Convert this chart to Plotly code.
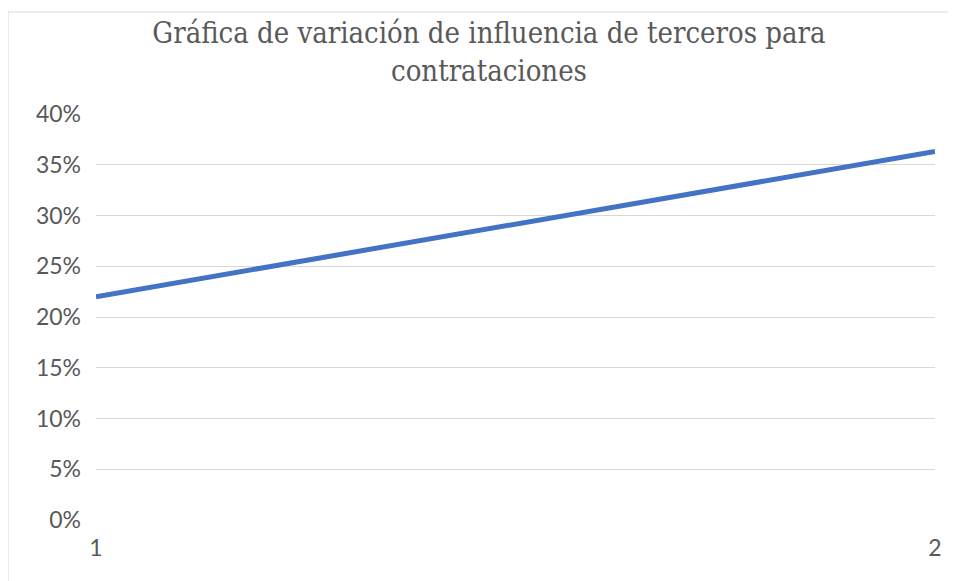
import plotly.graph_objects as go

x_values = [1, 2]
influencia = [0.22, 0.363]
y_tick_vals = [0, 0.05, 0.10, 0.15, 0.20, 0.25, 0.30, 0.35, 0.40]
y_tick_text = ["0%", "5%", "10%", "15%", "20%", "25%", "30%", "35%", "40%"]
x_tick_text = ["1", "2"]
title_text = "Gráfica de variación de influencia de terceros para<br>contrataciones"

# page body has an 8px default margin, so figure coords = window coords - 8
OFF = 8
W, H = 956, 581
L = 96 - OFF
T = 114 - OFF
R = W - (935 - OFF)
B = H - (520 - OFF)
pw = W - L - R
ph = H - T - B

fig = go.Figure()
fig.add_trace(go.Scatter(
    x=x_values, y=influencia, mode="lines",
    line=dict(color="#4472C4", width=5),
    showlegend=False, hoverinfo="skip",
))

fig.update_layout(
    width=W, height=H,
    margin=dict(l=L, r=R, t=T, b=B),
    paper_bgcolor="white", plot_bgcolor="white",
    title=dict(
        text=title_text, x=(489 - OFF) / W, xanchor="center",
        y=1 - (43 - OFF) / H, yanchor="middle",
        font=dict(family="DejaVu Serif Condensed, DejaVu Serif", size=29, color="#595959"),
    ),
    xaxis=dict(
        range=[1, 2], tickvals=x_values, ticktext=x_tick_text,
        showgrid=False, zeroline=False, showline=False, ticks="",
        tickfont=dict(family="Lato", size=23, color="#595959"),
        ticklabelstandoff=12,
    ),
    yaxis=dict(
        range=[0, 0.40], tickvals=y_tick_vals, ticktext=y_tick_text,
        showgrid=True, gridcolor="#D9D9D9", gridwidth=1,
        zeroline=False, showline=False, ticks="",
        tickfont=dict(family="Lato", size=23, color="#595959"),
        ticklabelstandoff=14,
    ),
    shapes=[dict(
        type="rect", xref="paper", yref="paper",
        x0=(8 - OFF - L) / pw, x1=1 + (W + 20 - L - pw) / pw,
        y0=-(B + 20) / ph, y1=1 + (T - (12 - OFF)) / ph,
        line=dict(color="#D9D9D9", width=1), layer="below",
    )],
)

fig.write_html("out.html")
